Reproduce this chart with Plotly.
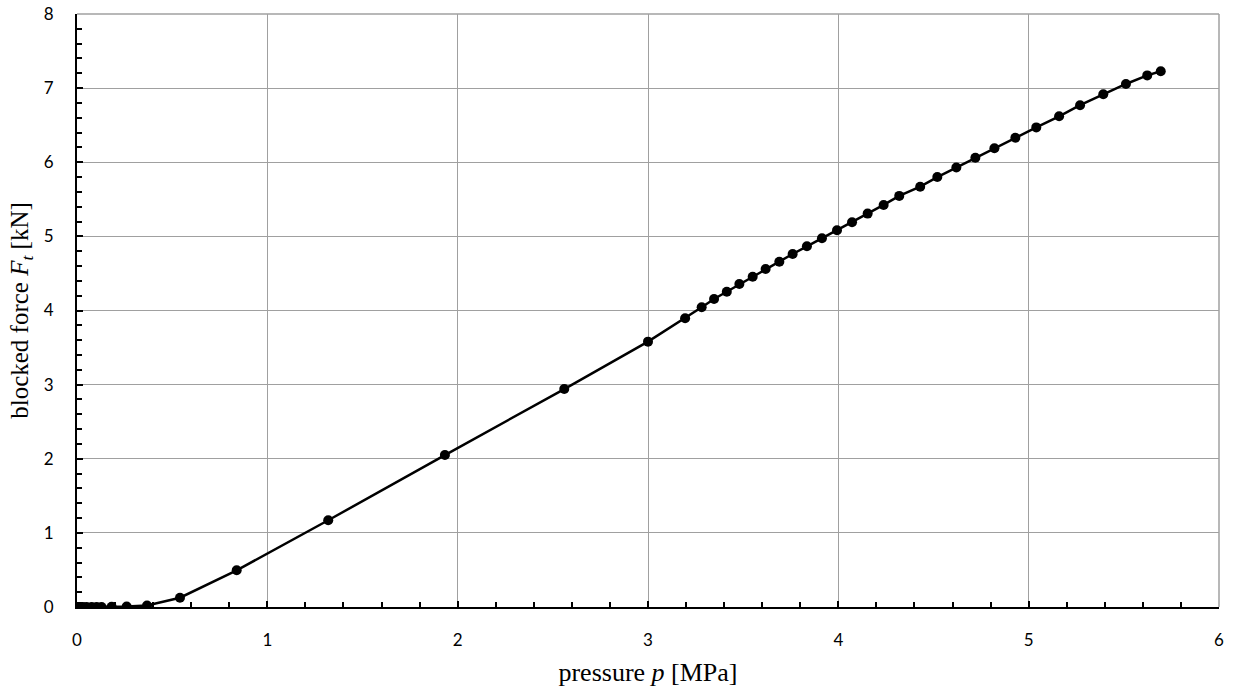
import plotly.graph_objects as go

pressure = [0.0, 0.005, 0.01, 0.02, 0.03, 0.05, 0.077, 0.103, 0.129, 0.182, 0.261, 0.368,
            0.541, 0.839, 1.320, 1.933, 2.56, 3.0,
            3.195, 3.282, 3.347, 3.414, 3.480, 3.550, 3.618, 3.690, 3.760, 3.835,
            3.914, 3.993, 4.072, 4.154, 4.238, 4.320, 4.43, 4.52, 4.62, 4.72,
            4.82, 4.93, 5.04, 5.16, 5.27, 5.392, 5.511, 5.623, 5.694]
force = [0.0, 0.0, 0.0, 0.0, 0.0, 0.0, 0.0, 0.0, 0.0, 0.002, 0.006, 0.02,
         0.125, 0.495, 1.17, 2.05, 2.94, 3.58,
         3.895, 4.043, 4.155, 4.254, 4.357, 4.456, 4.560, 4.658, 4.762, 4.866,
         4.974, 5.082, 5.190, 5.307, 5.424, 5.546, 5.67, 5.80, 5.93, 6.06,
         6.19, 6.33, 6.47, 6.62, 6.77, 6.917, 7.056, 7.172, 7.227]

x_ticks = [0, 1, 2, 3, 4, 5, 6]
y_ticks = [0, 1, 2, 3, 4, 5, 6, 7, 8]

fig = go.Figure()
fig.add_trace(go.Scatter(
    x=pressure, y=force, mode="lines+markers",
    line=dict(color="black", width=2.5),
    marker=dict(color="black", size=10),
    showlegend=False,
))

tickfont = dict(family="Lato, Carlito, sans-serif", size=17, color="black")
xtitlefont = dict(family="Liberation Serif, Times New Roman, serif", size=26, color="black")
ytitlefont = dict(family="Liberation Serif, Times New Roman, serif", size=25, color="black")

fig.update_layout(
    width=1241, height=693,
    margin=dict(l=77, r=22, t=14, b=86, autoexpand=False),
    plot_bgcolor="white", paper_bgcolor="white",
    xaxis=dict(
        range=[0, 6], tickvals=x_ticks, ticktext=[str(v) for v in x_ticks],
        showgrid=True, gridcolor="#a0a0a0", gridwidth=1,
        showline=True, linecolor="black", linewidth=2,
        ticks="inside", ticklen=6, tickwidth=2, tickcolor="black",
        minor=dict(dtick=0.2, ticks="inside", ticklen=5, tickwidth=2, tickcolor="black", showgrid=False),
        tickfont=tickfont, ticklabelstandoff=17, automargin=False,
        ticklabeloverflow="allow",
        title=dict(text="pressure <i>p</i> [MPa]", font=xtitlefont, standoff=13),
        zeroline=False,
    ),
    yaxis=dict(
        range=[0, 8], tickvals=y_ticks, ticktext=[str(v) for v in y_ticks],
        showgrid=True, gridcolor="#a0a0a0", gridwidth=1,
        showline=True, linecolor="black", linewidth=2,
        ticks="inside", ticklen=6, tickwidth=2, tickcolor="black",
        minor=dict(dtick=0.2, ticks="inside", ticklen=5, tickwidth=2, tickcolor="black", showgrid=False),
        tickfont=tickfont, ticklabelstandoff=18, automargin=False,
        ticklabeloverflow="allow",
        title=dict(text="blocked force <i>F<sub>t</sub></i> [kN]", font=ytitlefont, standoff=8),
        zeroline=False,
    ),
)

fig.add_shape(type="line", xref="paper", yref="paper", x0=0, x1=1, y0=1, y1=1,
              line=dict(color="#a0a0a0", width=1.5), layer="below")
fig.add_shape(type="line", xref="paper", yref="paper", x0=1, x1=1, y0=0, y1=1,
              line=dict(color="#a0a0a0", width=1.5), layer="below")

fig.write_html("out.html",
               config={"displayModeBar": False},
               post_script="document.body.style.margin='0';document.body.style.overflow='hidden';")
